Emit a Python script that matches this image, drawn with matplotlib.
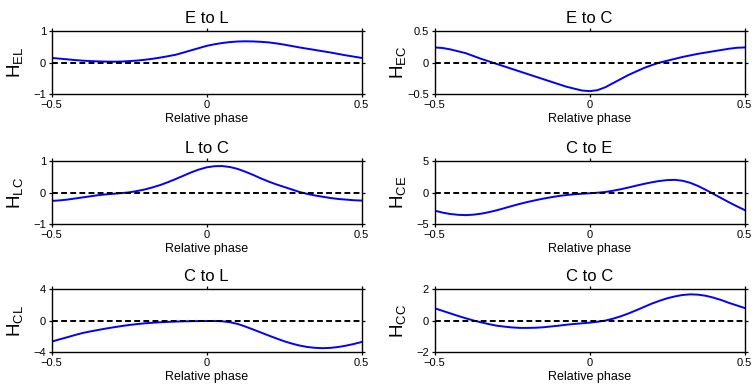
import matplotlib
matplotlib.use("Agg")
import matplotlib.pyplot as plt
from matplotlib.ticker import FuncFormatter

plt.rcParams['font.family'] = ['Liberation Sans', 'DejaVu Sans']
plt.rcParams['mathtext.default'] = 'regular'

# relative phase grid (x values), read every 0.025
phase = [-0.5, -0.475, -0.45, -0.425, -0.4, -0.375, -0.35, -0.325, -0.3, -0.275,
         -0.25, -0.225, -0.2, -0.175, -0.15, -0.125, -0.1, -0.075, -0.05, -0.025,
         0.0, 0.025, 0.05, 0.075, 0.1, 0.125, 0.15, 0.175, 0.2, 0.225,
         0.25, 0.275, 0.3, 0.325, 0.35, 0.375, 0.4, 0.425, 0.45, 0.475, 0.5]

h_el = [0.15, 0.127, 0.105, 0.082, 0.063, 0.05, 0.04, 0.033, 0.03, 0.035,
        0.048, 0.066, 0.09, 0.122, 0.16, 0.203, 0.25, 0.318, 0.39, 0.46,
        0.53, 0.58, 0.62, 0.65, 0.668, 0.675, 0.67, 0.658, 0.64, 0.608,
        0.57, 0.525, 0.48, 0.44, 0.40, 0.36, 0.32, 0.275, 0.23, 0.19, 0.15]
h_ec = [0.24, 0.232, 0.21, 0.18, 0.15, 0.105, 0.06, 0.02, -0.02, -0.06,
        -0.10, -0.14, -0.18, -0.22, -0.26, -0.30, -0.34, -0.38, -0.41, -0.44,
        -0.45, -0.435, -0.39, -0.325, -0.26, -0.195, -0.14, -0.085, -0.04, 0.0,
        0.03, 0.06, 0.09, 0.115, 0.14, 0.16, 0.18, 0.20, 0.22, 0.235, 0.24]
h_lc = [-0.26, -0.245, -0.22, -0.185, -0.15, -0.115, -0.08, -0.055, -0.035, -0.015,
        0.01, 0.05, 0.10, 0.165, 0.24, 0.33, 0.43, 0.535, 0.64, 0.73,
        0.80, 0.835, 0.84, 0.81, 0.75, 0.66, 0.56, 0.45, 0.35, 0.26,
        0.18, 0.10, 0.02, -0.04, -0.09, -0.13, -0.17, -0.20, -0.22, -0.24, -0.25]
h_ce = [-2.84, -3.15, -3.37, -3.50, -3.55, -3.48, -3.32, -3.08, -2.79, -2.45,
        -2.10, -1.77, -1.47, -1.20, -0.95, -0.73, -0.53, -0.38, -0.26, -0.17,
        -0.10, -0.01, 0.10, 0.30, 0.53, 0.81, 1.10, 1.38, 1.63, 1.84,
        1.98, 2.02, 1.88, 1.55, 1.05, 0.44, -0.21, -0.87, -1.53, -2.15, -2.74]
h_cl = [-2.65, -2.37, -2.10, -1.82, -1.56, -1.36, -1.18, -1.0, -0.84, -0.69,
        -0.55, -0.44, -0.34, -0.27, -0.21, -0.16, -0.12, -0.09, -0.07, -0.06,
        -0.05, -0.05, -0.08, -0.2, -0.42, -0.75, -1.12, -1.5, -1.88, -2.25,
        -2.6, -2.9, -3.15, -3.33, -3.44, -3.48, -3.44, -3.33, -3.16, -2.95, -2.7]
h_cc = [0.78, 0.62, 0.46, 0.30, 0.15, 0.01, -0.11, -0.22, -0.32, -0.38,
        -0.43, -0.46, -0.46, -0.45, -0.42, -0.37, -0.32, -0.26, -0.21, -0.17,
        -0.13, -0.07, 0.0, 0.12, 0.27, 0.45, 0.65, 0.86, 1.07, 1.25,
        1.41, 1.53, 1.62, 1.66, 1.64, 1.57, 1.45, 1.30, 1.12, 0.96, 0.80]

titles = ['E to L', 'E to C', 'L to C', 'C to E', 'C to L', 'C to C']
ylabels = ['EL', 'EC', 'LC', 'CE', 'CL', 'CC']
series = [h_el, h_ec, h_lc, h_ce, h_cl, h_cc]
ylims = [1, 0.5, 1, 5, 4, 2]
xticks = [-0.5, 0, 0.5]

fmt = FuncFormatter(lambda v, p: f'{v:g}'.replace('-', '\u2212'))

fig = plt.figure(figsize=(7.53, 3.87), dpi=100)
lefts = [0.0687, 0.5773]
bottoms = [0.7563, 0.4204, 0.0897]
w, h = 0.4115, 0.1636

for i in range(6):
    r, c = divmod(i, 2)
    ax = fig.add_axes([lefts[c], bottoms[r], w, h])
    lim = ylims[i]
    ax.plot(phase, series[i], color='#0000ff', lw=1.4)
    zl, = ax.plot([-0.5, 0.5], [0, 0], color='k', lw=1.4)
    zl.set_dashes([3, 1.7])
    ax.set_xlim(-0.5, 0.5)
    ax.set_ylim(-lim, lim)
    ax.set_xticks(xticks)
    ax.set_yticks([-lim, 0, lim])
    ax.xaxis.set_major_formatter(fmt)
    ax.yaxis.set_major_formatter(fmt)
    ax.tick_params(direction='out', length=2.2, width=0.9, labelsize=8,
                   top=True, right=True, pad=2)
    for s in ax.spines.values():
        s.set_linewidth(1.0)
    ax.set_title(titles[i], fontsize=12, pad=6)
    ax.set_xlabel('Relative phase', fontsize=9, labelpad=2)
    ax.set_ylabel('$H_{%s}$' % ylabels[i], fontsize=13.5)
    ax.yaxis.set_label_coords(-0.085, 0.5)

fig.savefig('out.png', dpi=100)
